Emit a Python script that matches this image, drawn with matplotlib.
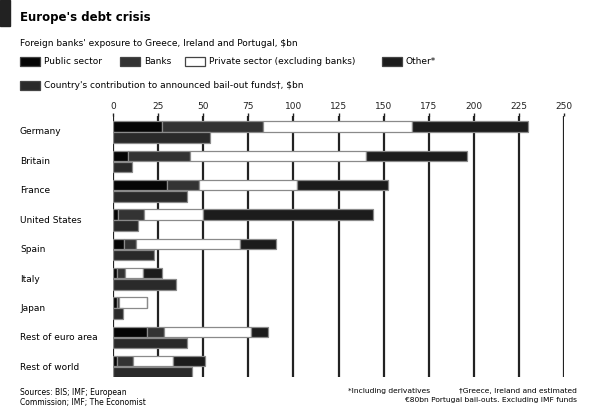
import numpy as np
import matplotlib
matplotlib.use("Agg")
import matplotlib.pyplot as plt
from matplotlib.patches import Rectangle

# Daten ($bn)
countries = ["Germany", "Britain", "France", "United States", "Spain",
             "Italy", "Japan", "Rest of euro area", "Rest of world"]
public = [27, 8.5, 29.7, 3, 6, 2.4, 2, 19, 2]
banks = [56, 34, 18, 14, 7, 4, 1.5, 9.3, 9.3]
private = [82.5, 98, 54.5, 33, 57.4, 10.2, 15.2, 48, 22.1]
other = [64.5, 56, 50.5, 94, 19.9, 10.7, 0, 9.7, 17.6]
contribution = [53.7, 10.3, 40.8, 14, 22.7, 35, 5.4, 40.8, 43.6]
xticks = [0, 25, 50, 75, 100, 125, 150, 175, 200, 225, 250]

legend_labels = ["Public sector", "Banks", "Private sector (excluding banks)", "Other*"]
colors = ["#050505", "#333333", "#ffffff", "#1c1c1c"]
contrib_color = "#2a2a2a"

W, H = 595, 416
fig = plt.figure(figsize=(W / 100, H / 100), dpi=100)

def fx(px):
    return px / W

def fy(py):
    return 1 - py / H

# Hauptachse
ax = fig.add_axes([fx(113), fy(377), fx(564) - fx(113), fy(116) - fy(377)])

y = np.arange(len(countries))
h = 0.36
left = np.zeros(len(countries))
for vals, c in zip([public, banks, private, other], colors):
    vals = np.array(vals)
    ax.barh(y - 0.19, vals, left=left, height=h, color=c,
            edgecolor="#8a8a8a", linewidth=0.9, zorder=3)
    left = left + vals
ax.barh(y + 0.19, contribution, height=h, color=contrib_color,
        edgecolor="#8a8a8a", linewidth=0.9, zorder=3)

ax.set_xlim(0, 250)
ax.set_ylim(8.35, -0.55)
ax.set_xticks(xticks)
ax.xaxis.tick_top()
ax.tick_params(axis="x", length=2.5, width=1, colors="#222222", labelsize=6.5, pad=1)
ax.set_yticks([])
for s in ax.spines.values():
    s.set_visible(False)
ax.grid(axis="x", color="#222222", linewidth=1.6)
ax.set_axisbelow(True)

# Kategorie-Beschriftungen
for i, name in enumerate(countries):
    fig.text(fx(20), fy(132 + i * 29.4), name, fontsize=6.5, va="center", ha="left")

# Kopfzeile
fig.patches.append(Rectangle((0, fy(26)), fx(10), fy(0) - fy(26),
                             transform=fig.transFigure, color="#222222"))
fig.text(fx(20), fy(18), "Europe's debt crisis", fontsize=8.5, fontweight="bold",
         va="center", ha="left")
fig.text(fx(20), fy(44), "Foreign banks' exposure to Greece, Ireland and Portugal, $bn",
         fontsize=6.5, va="center", ha="left")

# Legende
leg_x = [20, 120, 185, 382]
for lx, lab, c in zip(leg_x, legend_labels, colors):
    fig.patches.append(Rectangle((fx(lx), fy(66)), fx(20), fy(57) - fy(66),
                                 transform=fig.transFigure, facecolor=c,
                                 edgecolor="#444444", linewidth=0.9))
    fig.text(fx(lx + 24), fy(61.5), lab, fontsize=6.5, va="center", ha="left")
fig.patches.append(Rectangle((fx(20), fy(90)), fx(20), fy(81) - fy(90),
                             transform=fig.transFigure, facecolor=contrib_color,
                             edgecolor="#444444", linewidth=0.9))
fig.text(fx(44), fy(85.5), "Country's contribution to announced bail-out funds\u2020, $bn",
         fontsize=6.5, va="center", ha="left")

# Fussnoten
fig.text(fx(20), fy(388), "Sources: BIS; IMF; European\nCommission; IMF; The Economist",
         fontsize=5.5, va="top", ha="left", linespacing=1.15)
fig.text(fx(348), fy(388), "*Including derivatives", fontsize=5.4, va="top", ha="left")
fig.text(fx(577), fy(388), "\u2020Greece, Ireland and estimated",
         fontsize=5.4, va="top", ha="right")
fig.text(fx(577), fy(397), "\u20ac80bn Portugal bail-outs. Excluding IMF funds",
         fontsize=5.4, va="top", ha="right")

fig.savefig("out.png", dpi=100)
